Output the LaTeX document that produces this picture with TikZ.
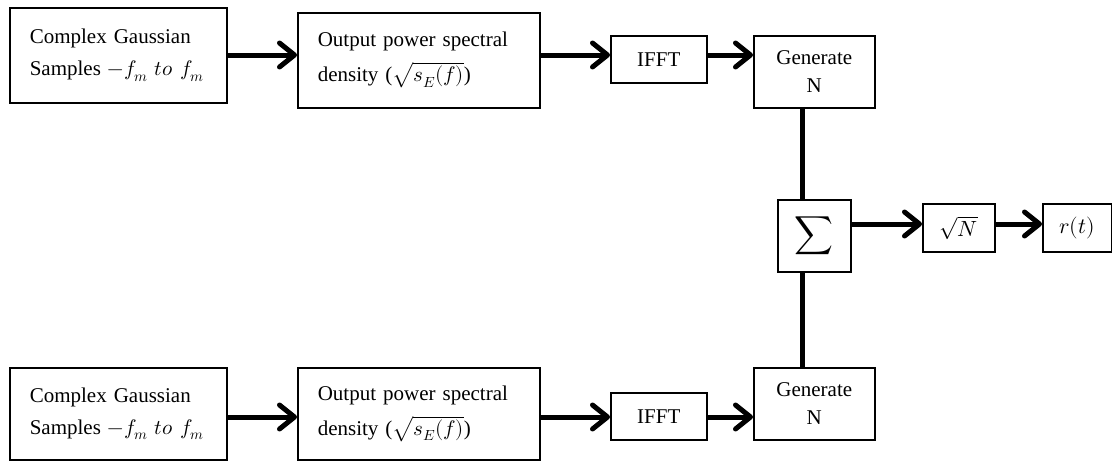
\documentclass[tikz,border=0pt]{standalone}
\usepackage{fontspec}
\usepackage{unicode-math}
\setmainfont{Liberation Serif}
\setmathfont{Latin Modern Math}
\usetikzlibrary{arrows.meta}
\begin{document}
\begin{tikzpicture}[x=1pt,y=-1pt,
  blk/.style={draw, line width=1.6pt, inner sep=0pt, anchor=north west,
    font=\fontsize{21}{32}\selectfont},
  lbox/.style={blk, align=left},
  cbox/.style={blk, align=center},
  arr/.style={line width=5pt, -{Straight Barb[round,length=15pt,width=24pt]}},
  wire/.style={line width=5pt}]
\useasboundingbox (0,0) rectangle (1112,461);
% top row
\node[lbox, minimum width=217pt, minimum height=95pt, text width=177pt] (a1) at (9,7)
  {\raisebox{4pt}{\parbox{177pt}{\baselineskip=32pt Complex Gaussian\\Samples $-f_m\ to\ f_m$}}};
\node[lbox, minimum width=242pt, minimum height=95pt, text width=202pt] (b1) at (297,12)
  {\raisebox{4pt}{\parbox{202pt}{\baselineskip=35pt Output power spectral\\density ($\sqrt{s_E(f)}$)}}};
\node[cbox, minimum width=96pt, minimum height=47pt] (c1) at (610,35) {IFFT};
\node[cbox, minimum width=121pt, minimum height=72pt, font=\fontsize{21}{28}\selectfont] (d1) at (753,35) {Generate\\N};
% bottom row
\node[lbox, minimum width=217pt, minimum height=92pt, text width=177pt] (a2) at (9,367)
  {\raisebox{4pt}{\parbox{177pt}{\baselineskip=32pt Complex Gaussian\\Samples $-f_m\ to\ f_m$}}};
\node[lbox, minimum width=242pt, minimum height=92pt, text width=202pt] (b2) at (297,367)
  {\raisebox{4pt}{\parbox{202pt}{\baselineskip=35pt Output power spectral\\density ($\sqrt{s_E(f)}$)}}};
\node[cbox, minimum width=96pt, minimum height=47pt] (c2) at (610,392) {IFFT};
\node[cbox, minimum width=121pt, minimum height=72pt, font=\fontsize{21}{28}\selectfont] (d2) at (753,367) {Generate\\N};
% sum and output
\node[cbox, minimum width=73pt, minimum height=72pt] (s) at (777,199) {\fontsize{27}{27}\selectfont$\displaystyle\sum$};
\node[cbox, minimum width=72pt, minimum height=48pt, font=\fontsize{22}{22}\selectfont] (q) at (922,203) {$\sqrt{N}$};
\node[cbox, minimum width=69pt, minimum height=48pt, font=\fontsize{22}{22}\selectfont] (r) at (1042,203) {$r(t)$};
% helper coordinates
\coordinate (yt) at (0,55);
\coordinate (yb) at (0,417);
\coordinate (yo) at (0,224);
\coordinate (vx) at (802,0);
% connectors top
\draw[arr] (a1.east |- yt) -- (b1.west |- yt);
\draw[arr] (b1.east |- yt) -- (c1.west |- yt);
\draw[arr] (c1.east |- yt) -- (d1.west |- yt);
% connectors bottom
\draw[arr] (a2.east |- yb) -- (b2.west |- yb);
\draw[arr] (b2.east |- yb) -- (c2.west |- yb);
\draw[arr] (c2.east |- yb) -- (d2.west |- yb);
% vertical wires
\draw[wire] (d1.south -| vx) -- (s.north -| vx);
\draw[wire] (s.south -| vx) -- (d2.north -| vx);
% output
\draw[arr] (s.east |- yo) -- (q.west |- yo);
\draw[arr] (q.east |- yo) -- (r.west |- yo);
\end{tikzpicture}
\end{document}
